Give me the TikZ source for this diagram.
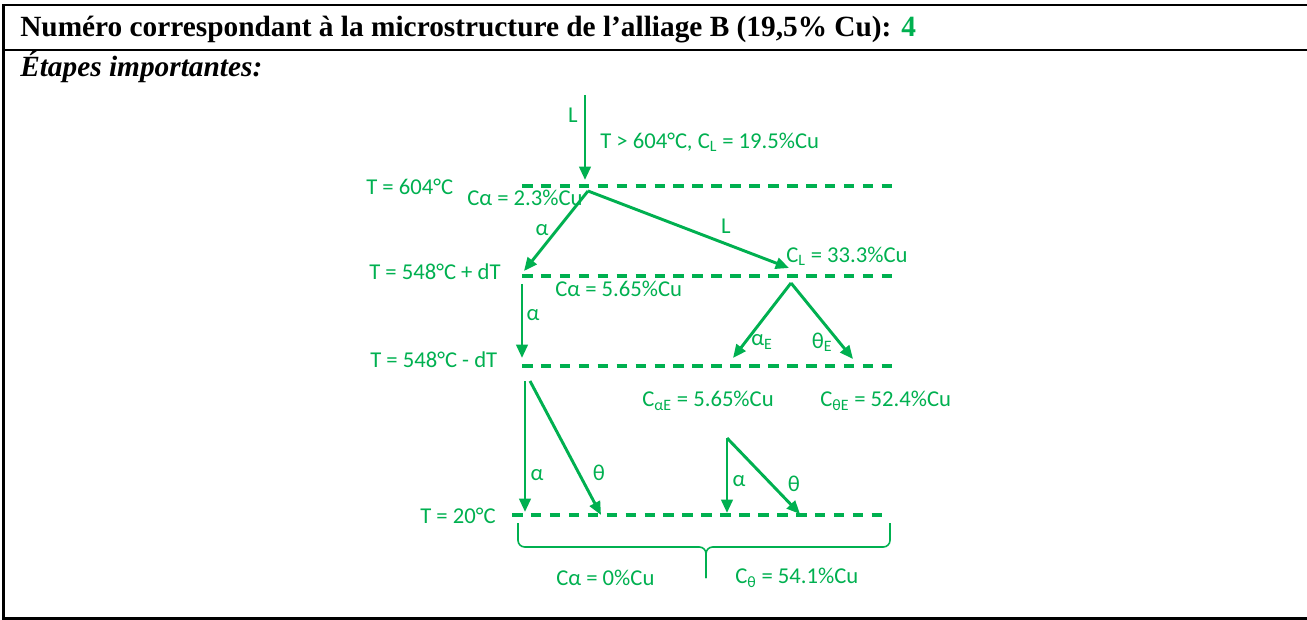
\documentclass[tikz,border=0pt]{standalone}
\usepackage{fontspec}
\setmainfont{Liberation Serif}
\newfontfamily\calib{Carlito}
\usetikzlibrary{arrows.meta, positioning, calc}
\definecolor{grn}{RGB}{0,176,80}
\newcommand{\sbs}[1]{\textsubscript{#1}}

\begin{document}
\begin{tikzpicture}[x=0.75pt, y=-0.75pt,
        lbl/.style={font=\calib\fontsize{17}{19}\selectfont, text=grn, inner sep=0pt},
        lw/.style={lbl, anchor=west},
        arr/.style={-{Triangle[length=10pt, width=8.5pt]}, line width=2.2pt, draw=grn},
        tline/.style={draw=grn, line width=2.3pt, dash pattern=on 7.9pt off 6.3pt},
        frame/.style={draw=black, line width=1.6pt}]
    \useasboundingbox (0,0) rectangle (1307,620);
    % table
    \draw[frame] (1312,5) -- (3.5,5) -- (3.5,618.5) -- (1312,618.5);
    \draw[frame] (3.5,50) -- (1312,50);
    \node[anchor=base west, inner sep=0pt, font=\bfseries\fontsize{22}{25}\selectfont] (head) at (20,37)
        {Numéro correspondant à la microstructure de l’alliage B (19,5\% Cu): \textcolor{grn}{4}};
    \node[anchor=base west, inner sep=0pt, font=\bfseries\itshape\fontsize{22}{25}\selectfont] (steps) at (20,77)
        {Étapes importantes:};
    % temperature levels
    \node[lw] (t1) at (366,187) {T = 604°C};
    \node[lw] (t2) at (369,272) {T = 548°C + dT};
    \node[lw] (t3) at (370,360) {T = 548°C - dT};
    \node[lw] (t4) at (420,516) {T = 20°C};
    \coordinate (d1a) at (522,186); \coordinate (d1b) at (900,186);
    \coordinate (d2a) at (522,276); \coordinate (d2b) at (900,276);
    \coordinate (d3a) at (522,366); \coordinate (d3b) at (900,366);
    \coordinate (d4a) at (512,515); \coordinate (d4b) at (890,515);
    \foreach \a/\b in {d1a/d1b,d2a/d2b,d3a/d3b,d4a/d4b} \draw[tline] (\a) -- (\b);
    % liquid
    \coordinate (top) at (585,95);
    \coordinate (p1) at (585,180);
    \draw[arr] (top) -- (p1);
    \node[lbl] (lL) at (573,115) {L};
    \node[lw] (cl0) at (600,142) {T > 604°C, C\sbs{L} = 19.5\%Cu};
    % 604 -> 548+dT
    \coordinate (s1) at (588,191);
    \coordinate (e1a) at (524,271);
    \coordinate (e1b) at (789,268);
    \draw[arr] (s1) -- (e1a);
    \draw[arr] (s1) -- (e1b);
    \node[lw] (ca1) at (467,198) {Cα = 2.3\%Cu};
    \node[lbl] (la1) at (542,230) {α};
    \node[lbl] (lL1) at (726,226) {L};
    \node[lw] (cl1) at (786,256) {C\sbs{L} = 33.3\%Cu};
    % 548+dT -> 548-dT
    \coordinate (s2) at (522,284);
    \coordinate (e2) at (522,358);
    \draw[arr] (s2) -- (e2);
    \node[lw] (ca2) at (555,289) {Cα = 5.65\%Cu};
    \node[lbl] (la2) at (533,315) {α};
    \coordinate (s3) at (791,283);
    \coordinate (e3a) at (733,358);
    \coordinate (e3b) at (853,359);
    \draw[arr] (s3) -- (e3a);
    \draw[arr] (s3) -- (e3b);
    \node[lbl] (laE) at (762,342) {α\sbs{E}};
    \node[lbl] (ltE) at (822,342) {θ\sbs{E}};
    \node[lw] (caE) at (642,401) {C\sbs{αE} = 5.65\%Cu};
    \node[lw] (ctE) at (820,401) {C\sbs{θE} = 52.4\%Cu};
    % 548-dT -> 20
    \coordinate (s4a) at (525,381); \coordinate (e4a) at (525,512);
    \coordinate (s4b) at (530,381); \coordinate (e4b) at (601,515);
    \draw[arr] (s4a) -- (e4a);
    \draw[arr] (s4b) -- (e4b);
    \node[lbl] (la4) at (537,475) {α};
    \node[lbl] (lt4) at (599,473) {θ};
    \coordinate (s5) at (727,438);
    \coordinate (e5a) at (727,513);
    \coordinate (e5b) at (800,514);
    \draw[arr] (s5) -- (e5a);
    \draw[arr] (s5) -- (e5b);
    \node[lbl] (la5) at (739,481) {α};
    \node[lbl] (lt5) at (794,484) {θ};
    % brace
    \coordinate (bl) at (518,523); \coordinate (br) at (890,523);
    \coordinate (bm) at (706,578);
    \draw[grn, line width=1.2pt, rounded corners=5pt]
        (bl) -- (518,547) -- (706,547) -- (bm);
    \draw[grn, line width=1.2pt, rounded corners=5pt]
        (br) -- (890,547) -- (706,547) -- (bm);
    \node[lw] (ca6) at (556,578) {Cα = 0\%Cu};
    \node[lw] (ct6) at (735,578) {C\sbs{θ} = 54.1\%Cu};
\end{tikzpicture}
\end{document}
